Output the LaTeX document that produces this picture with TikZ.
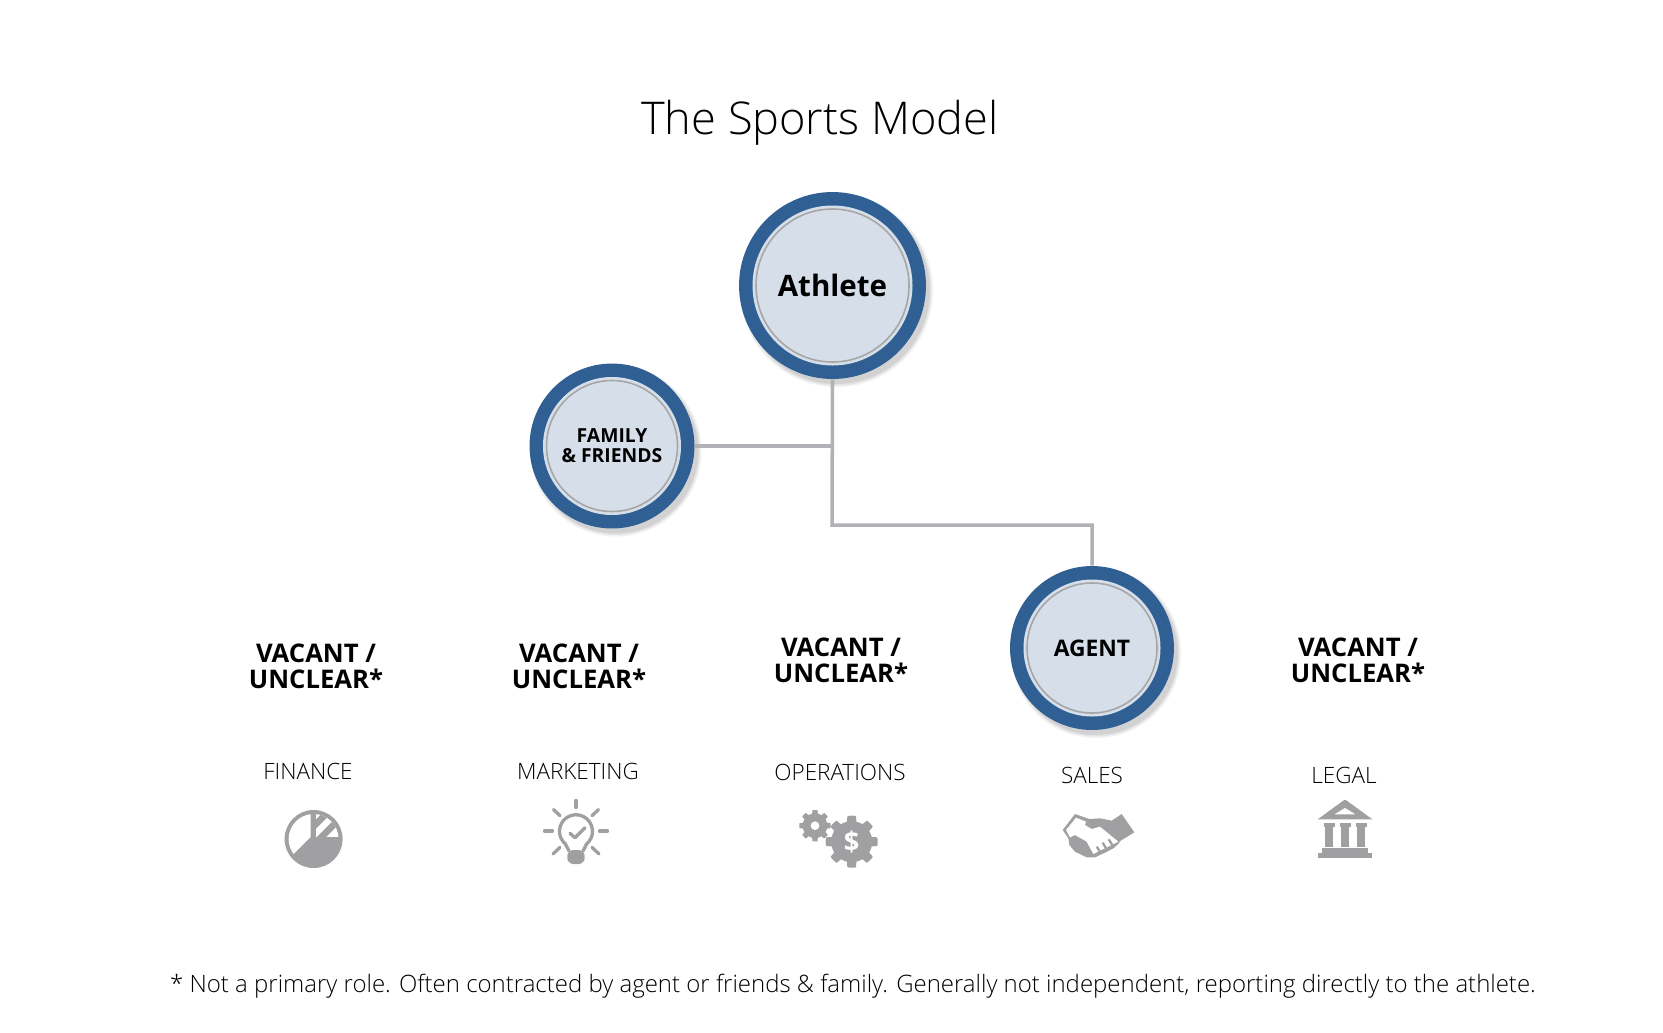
\documentclass[tikz,border=0pt]{standalone}
\usepackage{fontspec}
\setmainfont{Open Sans}
\newfontfamily\oslight{Open Sans Light}
\usetikzlibrary{calc}
\definecolor{ringblue}{HTML}{2F5F93}
\definecolor{discfill}{HTML}{D6DFE9}
\definecolor{ringgrey}{HTML}{A6A6A6}
\definecolor{linegrey}{HTML}{B0B2B6}
\definecolor{icongrey}{HTML}{A0A0A2}
\tikzset{
  px/.style={x=0.02cm,y=-0.02cm},
  link/.style={draw=linegrey,line width=2pt},
  vacant/.style={align=center,font=\bfseries\fontsize{14.6}{14.5}\selectfont,inner sep=0},
  dept/.style={font=\oslight\fontsize{12.8}{15}\selectfont,inner sep=0},
  icon/.style={fill=icongrey,draw=none},
  iconline/.style={draw=icongrey,line width=0.066cm,line cap=round,line join=round},
  outline/.style={circle,fill=ringblue,draw=none,inner sep=0},
}
\newcommand{\rolecircle}[5]{% name, x, y, outer radius px, text
  \fill[black,opacity=.05] (#2+4,#3+5) circle (#4+3);
  \fill[black,opacity=.06] (#2+4,#3+5) circle (#4+1.5);
  \fill[black,opacity=.08] (#2+4,#3+5) circle (#4);
  \node[outline,minimum size=#4*0.04cm] (#1) at (#2,#3) {};
  \fill[discfill] (#2,#3) circle (#4-13.5);
  \draw[ringgrey,line width=.9pt] (#2,#3) circle (#4-17);
  \node[align=center,inner sep=0] at (#2,#3) {#5};
}
\newcommand{\gearshape}[4]{% cx, cy, outer, root
  plot[domain=0:360,samples=241,variable=\t] ({#1+(#4+(#3-#4)*max(0,min(1,2.2*cos(8*\t)+.5)))*cos(\t)},{#2+(#4+(#3-#4)*max(0,min(1,2.2*cos(8*\t)+.5)))*sin(\t)}) -- cycle
}
\begin{document}
\begin{tikzpicture}[px]
\useasboundingbox (0,0) rectangle (1663,1032);
\node[inner sep=0,font=\oslight\fontsize{25.7}{30}\selectfont] (title) at (820,123) {The Sports Model};

\coordinate (elbowA) at (832,446);
\coordinate (elbowB) at (832,525);
\coordinate (elbowC) at (1092,525);

\rolecircle{athlete}{832.5}{285.5}{93.5}{\bfseries\fontsize{16.8}{20}\selectfont Athlete}
\rolecircle{family}{612}{446}{82.5}{\raisebox{1pt}{\bfseries\fontsize{11}{10.3}\selectfont FAMILY}\\[-1pt]\raisebox{.6pt}{\bfseries\fontsize{11}{10.3}\selectfont \& FRIENDS}}
\rolecircle{agent}{1092}{648}{82}{\bfseries\fontsize{13}{14}\selectfont AGENT}

\draw[link] (athlete.south) -- (elbowB) -- (elbowC) -- (agent.north);
\draw[link] (family.east) -- (elbowA);

\node[vacant] (v1) at (316,666) {VACANT /\\[.15pt]UNCLEAR*};
\node[vacant] (v2) at (579,666) {VACANT /\\[.15pt]UNCLEAR*};
\node[vacant] (v3) at (841,660) {VACANT /\\[.15pt]UNCLEAR*};
\node[vacant] (v5) at (1358,660) {VACANT /\\[.15pt]UNCLEAR*};

\node[dept] (d1) at (308,771) {FINANCE};
\node[dept] (d2) at (578,771) {MARKETING};
\node[dept] (d3) at (840,772) {OPERATIONS};
\node[dept] (d4) at (1092,775) {SALES};
\node[dept] (d5) at (1344,775) {LEGAL};

% finance icon
\fill[icon] (313.6,839) circle (29);
\begin{scope}
  \clip (313.6,839) circle (25);
  \fill[white] (310.5,837) -- (310.5,805) -- (280,805) -- (280,867.5) -- cycle;
  \clip (316,805) rectangle (345,837);
  \fill[white] (316,805) rectangle (345,837);
  \draw[icongrey,line width=0.13cm] (310,830) -- (340,800);
  \draw[icongrey,line width=0.13cm] (316,842.5) -- (346,812.5);
\end{scope}

% marketing icon
\draw[iconline] (576,800.5) -- (576,807.5);
\draw[iconline] (544.5,831) -- (552.5,831);
\draw[iconline] (599.5,831) -- (607.5,831);
\draw[iconline] (553.5,809.5) -- (560,815.7);
\draw[iconline] (598.5,809.5) -- (592,815.7);
\draw[iconline] (553,854) -- (560,847.3);
\draw[iconline] (599,854) -- (592,847.3);
\draw[iconline] (569,851) -- (565.4,843.9) arc[start angle=130,end angle=410,radius=16.5] -- (583,851);
\draw[iconline] (570,833.3) -- (575,837.7) -- (585,827.7);
\fill[icon,rounded corners=3.5] (567.3,850) -- (584.7,850) -- (584.7,864) -- (567.3,864) -- cycle;

% operations icon
\fill[icon,even odd rule] \gearshape{815}{825.7}{15.7}{12.3} (815,825.7) circle (4.5);
\fill[icon] \gearshape{851.7}{841.7}{26}{20.5};
\node[inner sep=0,text=white,font=\bfseries\fontsize{15.5}{16}\selectfont] (dollar) at (851.7,842) {\$};

% sales icon
\begin{scope}[shift={(1050,800)},scale=0.3333]
  \fill[icon] (38,90) -- (75,42) -- (118,57) -- (150,55) -- (185,62) -- (215,42) -- (253,97) -- (212,122) -- (205,132) -- (190,145) -- (165,158) -- (135,172) -- (110,172) -- (75,155) -- (58,135) -- (55,115) -- cycle;
  \fill[white] (48,90) -- (78,53) -- (108,65) -- (105,75) -- (125,87) -- (150,80) -- (205,125) -- (130,162) -- (110,125) -- (75,105) -- (60,112) -- cycle;
  \draw[icongrey,line width=0.046cm] (140,140) -- (150,155);
  \draw[icongrey,line width=0.046cm] (158,128) -- (168,145);
  \draw[icongrey,line width=0.046cm] (176,118) -- (187,135);
\end{scope}

% legal icon
\fill[icon,even odd rule,line join=round] (1317.7,819.3) -- (1343,800.8) -- (1345,799.8) -- (1347,800.8) -- (1372.3,819.3) -- cycle (1334.3,814.3) -- (1345,807.8) -- (1355.7,814.3) -- cycle;
\foreach \cx in {1329.2,1345.2,1361.2}{
  \fill[icon] (\cx-5.5,823.3) rectangle (\cx+5.5,826.7);
  \fill[icon] (\cx-4.2,826) rectangle (\cx+4.2,847.3);
}
\fill[icon] (1322.3,848.3) rectangle (1367.7,853);
\fill[icon] (1317.7,852.7) rectangle (1372.3,857.7);

\node[inner sep=0,font=\oslight\fontsize{13.65}{16}\selectfont] (note) at (853,986)
 {* Not a primary role. Often contracted by agent or friends \& family. Generally not independent, reporting directly to the athlete.};
\end{tikzpicture}
\end{document}
